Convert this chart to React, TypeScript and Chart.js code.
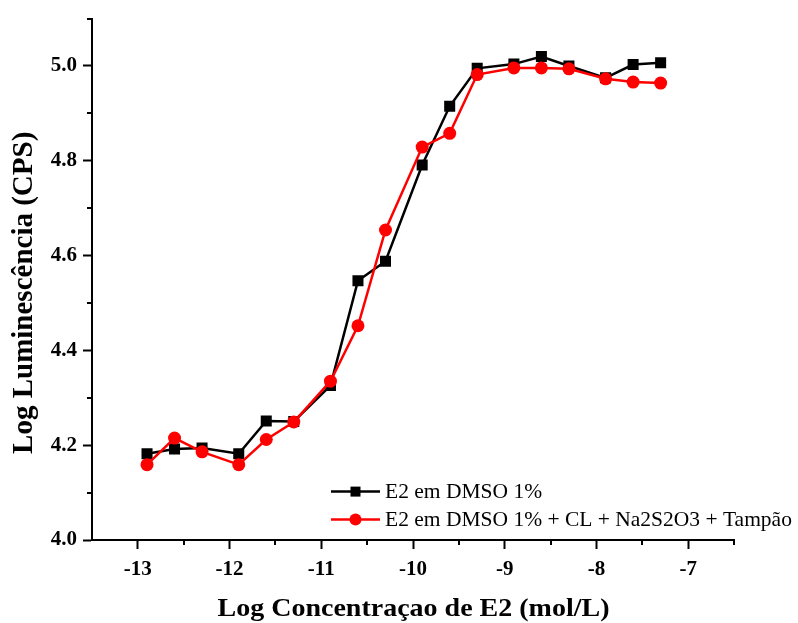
import React, { useEffect, useRef } from "react";
import { Chart, registerables } from "chart.js";

Chart.register(...registerables);

const logConc = [-12.9, -12.6, -12.3, -11.9, -11.6, -11.3, -10.9, -10.6, -10.3, -9.9, -9.6, -9.3, -8.9, -8.6, -8.3, -7.9, -7.6, -7.3];
const dmsoValues = [4.182, 4.192, 4.194, 4.182, 4.251, 4.25, 4.326, 4.547, 4.588, 4.791, 4.915, 4.995, 5.004, 5.02, 5.0, 4.975, 5.003, 5.007];
const mixValues = [4.159, 4.215, 4.186, 4.159, 4.212, 4.249, 4.335, 4.452, 4.654, 4.829, 4.858, 4.982, 4.996, 4.996, 4.994, 4.973, 4.966, 4.964];
const xMajorTicks = [-13, -12, -11, -10, -9, -8, -7];
const xMinorTicks = [-12.5, -11.5, -10.5, -9.5, -8.5, -7.5, -6.5];
const yMajorTicks = [4.0, 4.2, 4.4, 4.6, 4.8, 5.0];
const yMinorTicks = [4.1, 4.3, 4.5, 4.7, 4.9, 5.1];
const seriesLabels = ["E2 em DMSO 1%", "E2 em DMSO 1% + CL + Na2S2O3 + Tampão"];
const xTitle = "Log Concentraçao de E2 (mol/L)";
const yTitle = "Log Luminescência (CPS)";

const FONT = "'Liberation Serif', 'Times New Roman', serif";

const minorTicksPlugin = {
  id: "minorTicks",
  afterDraw(chart: any) {
    const ctx = chart.ctx;
    const xs = chart.scales.x;
    const ys = chart.scales.y;
    const area = chart.chartArea;
    ctx.save();
    ctx.strokeStyle = "#000";
    ctx.lineWidth = 2;
    xMinorTicks.forEach((v) => {
      const px = Math.round(xs.getPixelForValue(v));
      ctx.beginPath();
      ctx.moveTo(px, area.bottom);
      ctx.lineTo(px, area.bottom + 5);
      ctx.stroke();
    });
    yMinorTicks.forEach((v) => {
      const py = Math.round(ys.getPixelForValue(v));
      ctx.beginPath();
      ctx.moveTo(area.left, py);
      ctx.lineTo(area.left - 5, py);
      ctx.stroke();
    });
    ctx.restore();
  },
};

const axisTitlesPlugin = {
  id: "axisTitles",
  afterDraw(chart: any) {
    const ctx = chart.ctx;
    const area = chart.chartArea;
    ctx.save();
    ctx.fillStyle = "#000";
    ctx.textAlign = "center";
    ctx.textBaseline = "alphabetic";
    // x title
    ctx.save();
    ctx.translate((area.left + area.right) / 2 + 0.5, area.bottom + 76);
    ctx.scale(1.12, 1);
    ctx.font = `bold 25px ${FONT}`;
    ctx.fillText(xTitle, 0, 0);
    ctx.restore();
    // y title
    ctx.save();
    ctx.translate(area.left - 60, (area.top + area.bottom) / 2 + 13.5);
    ctx.rotate(-Math.PI / 2);
    ctx.font = `bold 29px ${FONT}`;
    ctx.fillText(yTitle, 0, 0);
    ctx.restore();
    ctx.restore();
  },
};

const customLegendPlugin = {
  id: "customLegend",
  afterDraw(chart: any) {
    const ctx = chart.ctx;
    const area = chart.chartArea;
    const x0 = area.left + 239;
    const x1 = x0 + 49;
    const rows = [area.top + 473, area.top + 501];
    ctx.save();
    chart.data.datasets.forEach((ds: any, i: number) => {
      const y = rows[i];
      ctx.strokeStyle = ds.borderColor;
      ctx.lineWidth = 2.5;
      ctx.beginPath();
      ctx.moveTo(x0, y);
      ctx.lineTo(x1, y);
      ctx.stroke();
      const cx = (x0 + x1) / 2;
      ctx.fillStyle = ds.backgroundColor;
      ctx.beginPath();
      if (ds.pointStyle === "rect") {
        ctx.rect(cx - 5, y - 5, 10, 10);
      } else {
        ctx.arc(cx, y, 6, 0, Math.PI * 2);
      }
      ctx.fill();
      ctx.fillStyle = "#000";
      ctx.font = `21.5px ${FONT}`;
      ctx.textBaseline = "middle";
      ctx.textAlign = "left";
      ctx.fillText(ds.label, x1 + 5, y + 1);
    });
    ctx.restore();
  },
};

export default function App() {
  const canvasRef = useRef<HTMLCanvasElement | null>(null);

  useEffect(() => {
    if (!canvasRef.current) return;
    const chart = new Chart(canvasRef.current, {
      type: "line",
      data: {
        datasets: [
          {
            label: seriesLabels[0],
            data: logConc.map((x, i) => ({ x, y: dmsoValues[i] })),
            borderColor: "#000000",
            backgroundColor: "#000000",
            pointBackgroundColor: "#000000",
            pointBorderColor: "#000000",
            pointStyle: "rect",
            pointRadius: 7.8,
            pointBorderWidth: 0,
            borderWidth: 2.5,
            tension: 0,
            order: 2,
          },
          {
            label: seriesLabels[1],
            data: logConc.map((x, i) => ({ x, y: mixValues[i] })),
            borderColor: "#ff0000",
            backgroundColor: "#ff0000",
            pointBackgroundColor: "#ff0000",
            pointBorderColor: "#ff0000",
            pointStyle: "circle",
            pointRadius: 6.5,
            pointBorderWidth: 0,
            borderWidth: 2.5,
            tension: 0,
            order: 1,
          },
        ],
      },
      options: {
        animation: false,
        responsive: false,
        maintainAspectRatio: false,
        layout: { padding: { left: 0, top: 16, right: 64, bottom: 0 } },
        plugins: {
          legend: { display: false },
          tooltip: { enabled: false },
        },
        scales: {
          x: {
            type: "linear",
            min: -13.5,
            max: -6.5,
            afterBuildTicks: (scale: any) => {
              scale.ticks = xMajorTicks.map((v) => ({ value: v }));
            },
            afterFit: (scale: any) => {
              scale.height = 83;
            },
            grid: {
              drawOnChartArea: false,
              drawTicks: true,
              tickLength: 9,
              tickWidth: 2,
              tickColor: "#000",
            },
            border: { display: true, color: "#000", width: 2 },
            ticks: {
              color: "#000",
              font: { family: FONT, size: 21, weight: "bold" },
              padding: 8,
              maxRotation: 0,
              callback: (v: any) => String(v),
            },
            title: { display: false },
          },
          y: {
            type: "linear",
            min: 4.0,
            max: 5.1,
            afterBuildTicks: (scale: any) => {
              scale.ticks = yMajorTicks.map((v) => ({ value: v }));
            },
            afterFit: (scale: any) => {
              scale.width = 92;
            },
            grid: {
              drawOnChartArea: false,
              drawTicks: true,
              tickLength: 9,
              tickWidth: 2,
              tickColor: "#000",
            },
            border: { display: true, color: "#000", width: 2 },
            ticks: {
              color: "#000",
              font: { family: FONT, size: 21, weight: "bold" },
              padding: 6,
              callback: (v: any) => Number(v).toFixed(1),
            },
            title: { display: false },
          },
        },
      },
      plugins: [minorTicksPlugin, axisTitlesPlugin, customLegendPlugin],
    } as any);
    return () => chart.destroy();
  }, []);

  return (
    <div style={{ position: "fixed", left: 0, top: 0, width: 798, height: 623, background: "#fff" }}>
      <canvas ref={canvasRef} width={798} height={623} style={{ width: 798, height: 623 }} />
    </div>
  );
}
